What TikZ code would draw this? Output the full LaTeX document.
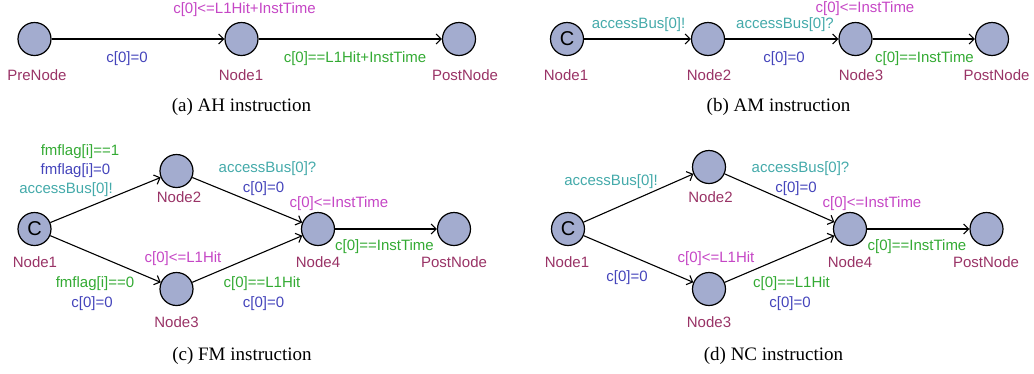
\documentclass[tikz,border=0pt]{standalone}
\usepackage{fontspec}
\usetikzlibrary{arrows.meta}
\newfontfamily\labfont{Liberation Sans}
\newfontfamily\capfont{Liberation Serif}
\definecolor{locfill}{RGB}{163,172,207}
\definecolor{namecol}{RGB}{153,51,102}
\definecolor{invcol}{RGB}{197,70,197}
\definecolor{grdcol}{RGB}{51,170,51}
\definecolor{updcol}{RGB}{68,68,187}
\definecolor{syncol}{RGB}{68,170,170}
\begin{document}
\begin{tikzpicture}[x=1pt,y=-1pt,
  loc/.style={circle,draw=black,line width=1.2pt,fill=locfill,minimum size=33pt,inner sep=0pt,
    font=\labfont\fontsize{20}{20}\selectfont},
  lbl/.style={anchor=base,inner sep=0pt,font=\labfont\fontsize{15}{16}\selectfont},
  nm/.style={lbl,text=namecol},
  inv/.style={lbl,text=invcol},
  grd/.style={lbl,text=grdcol},
  upd/.style={lbl,text=updcol},
  syn/.style={lbl,text=syncol},
  capt/.style={anchor=base,inner sep=0pt,font=\capfont\fontsize{19}{22}\selectfont},
  tr/.style={-{Straight Barb[length=5pt,width=10pt]},line width=1.1pt}]
\useasboundingbox (0,0) rectangle (1034,373);

% ---------------- (a) AH instruction
\node[loc] (aPre) at (34.5,39) {};
\node[loc] (aN1) at (241.5,39) {};
\node[loc] (aPost) at (459,39) {};
\draw[tr] (aPre) -- (aN1);
\draw[tr] (aN1) -- (aPost);
\node[nm] (aPreL) at (37,80) {PreNode};
\node[nm] (aN1L) at (241,80) {Node1};
\node[nm] (aPostL) at (465,80) {PostNode};
\node[inv] (aInv) at (244.5,13) {c[0]<=L1Hit+InstTime};
\node[upd] (aU1) at (127,62.5) {c[0]=0};
\node[grd] (aG2) at (355,62.5) {c[0]==L1Hit+InstTime};
\node[capt] (aCap) at (241.5,111.5) {(a) AH instruction};

% ---------------- (b) AM instruction
\node[loc] (bN1) at (567,39) {C};
\node[loc] (bN2) at (708,39) {};
\node[loc] (bN3) at (855.5,39) {};
\node[loc] (bPost) at (992,39) {};
\draw[tr] (bN1) -- (bN2);
\draw[tr] (bN2) -- (bN3);
\draw[tr] (bN3) -- (bPost);
\node[nm] (bN1L) at (566,80) {Node1};
\node[nm] (bN2L) at (709,80) {Node2};
\node[nm] (bN3L) at (861,80) {Node3};
\node[nm] (bPostL) at (996.5,80) {PostNode};
\node[syn] (bS1) at (638.5,28) {accessBus[0]!};
\node[syn] (bS2) at (785,28) {accessBus[0]?};
\node[upd] (bU2) at (784,62.5) {c[0]=0};
\node[inv] (bInv) at (865,12) {c[0]<=InstTime};
\node[grd] (bG3) at (924.5,62.5) {c[0]==InstTime};
\node[capt] (bCap) at (778.5,111.5) {(b) AM instruction};

% ---------------- (c) FM instruction
\node[loc] (cN1) at (34.5,229) {C};
\node[loc] (cN2) at (176.5,171) {};
\node[loc] (cN3) at (176.5,289) {};
\node[loc] (cN4) at (318,229) {};
\node[loc] (cPost) at (454,229) {};
\draw[tr] (cN1) -- (cN2);
\draw[tr] (cN1) -- (cN3);
\draw[tr] (cN2) -- (cN4);
\draw[tr] (cN3) -- (cN4);
\draw[tr] (cN4) -- (cPost);
\node[nm] (cN1L) at (35,267) {Node1};
\node[nm] (cN2L) at (179,202) {Node2};
\node[nm] (cN3L) at (176.5,327) {Node3};
\node[nm] (cN4L) at (318,267) {Node4};
\node[nm] (cPostL) at (454,267) {PostNode};
\node[grd] (cG1) at (80,155) {fmflag[i]==1};
\node[upd] (cU1) at (75.5,174) {fmflag[i]=0};
\node[syn] (cS1) at (66,193.5) {accessBus[0]!};
\node[grd] (cG2) at (95,287) {fmflag[i]==0};
\node[upd] (cU2) at (92,307) {c[0]=0};
\node[syn] (cS3) at (267.5,172) {accessBus[0]?};
\node[upd] (cU3) at (263.5,192) {c[0]=0};
\node[inv] (cInv4) at (339,207) {c[0]<=InstTime};
\node[inv] (cInv3) at (183,262) {c[0]<=L1Hit};
\node[grd] (cG4) at (262,287) {c[0]==L1Hit};
\node[upd] (cU4) at (263.5,307) {c[0]=0};
\node[grd] (cG5) at (384.5,250.5) {c[0]==InstTime};
\node[capt] (cCap) at (242,360) {(c) FM instruction};

% ---------------- (d) NC instruction
\node[loc] (dN1) at (568,229) {C};
\node[loc] (dN2) at (709,167) {};
\node[loc] (dN3) at (709,289) {};
\node[loc] (dN4) at (850,229) {};
\node[loc] (dPost) at (986.5,229) {};
\draw[tr] (dN1) -- (dN2);
\draw[tr] (dN1) -- (dN3);
\draw[tr] (dN2) -- (dN4);
\draw[tr] (dN3) -- (dN4);
\draw[tr] (dN4) -- (dPost);
\node[nm] (dN1L) at (567,267) {Node1};
\node[nm] (dN2L) at (710.5,202) {Node2};
\node[nm] (dN3L) at (709,327) {Node3};
\node[nm] (dN4L) at (850,267) {Node4};
\node[nm] (dPostL) at (986,267) {PostNode};
\node[syn] (dS1) at (611,185) {accessBus[0]!};
\node[upd] (dU2) at (627,281.5) {c[0]=0};
\node[syn] (dS3) at (800.5,172) {accessBus[0]?};
\node[upd] (dU3) at (796,192) {c[0]=0};
\node[inv] (dInv4) at (872,207) {c[0]<=InstTime};
\node[inv] (dInv3) at (716,262) {c[0]<=L1Hit};
\node[grd] (dG4) at (791.5,287) {c[0]==L1Hit};
\node[upd] (dU4) at (790,307) {c[0]=0};
\node[grd] (dG5) at (917,250.5) {c[0]==InstTime};
\node[capt] (dCap) at (773.5,360) {(d) NC instruction};
\end{tikzpicture}
\end{document}
